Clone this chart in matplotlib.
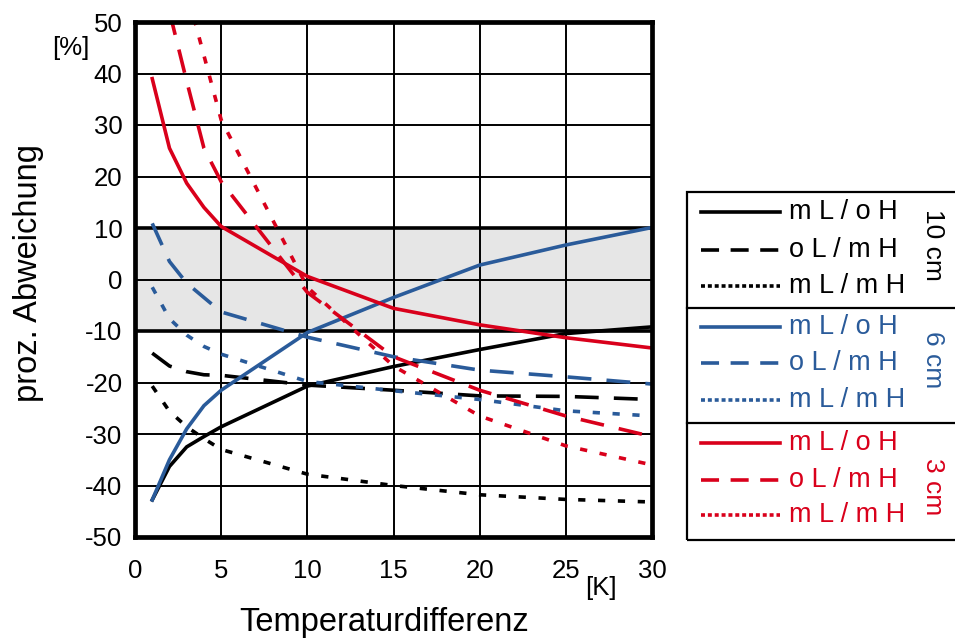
import numpy as np
import matplotlib
matplotlib.use('Agg')
import matplotlib.pyplot as plt
from matplotlib.lines import Line2D
from matplotlib.patches import Rectangle

plt.rcParams['font.family'] = ['Liberation Sans', 'DejaVu Sans']
plt.rcParams['axes.unicode_minus'] = False

# Temperaturdifferenz [K]
x = [1, 2, 3, 4, 5, 10, 15, 20, 25, 30]

# 10 cm
cm10_mL_oH = [-42.8, -36.3, -32.5, -30.5, -28.6, -20.7, -16.9, -13.6, -10.5, -9.2]
cm10_oL_mH = [-14.3, -16.8, -17.9, -18.5, -18.6, -20.5, -21.5, -22.6, -22.7, -23.3]
cm10_mL_mH = [-20.7, -25.6, -28.6, -30.9, -33.0, -37.8, -40.0, -41.8, -42.7, -43.2]
# 6 cm
cm6_mL_oH = [-42.8, -35.0, -29.0, -24.5, -21.5, -10.3, -3.5, 2.8, 6.7, 10.1]
cm6_oL_mH = [10.9, 3.5, -0.7, -3.5, -6.3, -11.2, -15.0, -17.6, -18.9, -20.3]
cm6_mL_mH = [-1.5, -7.6, -10.8, -13.0, -14.5, -19.8, -21.6, -23.3, -25.5, -26.5]
# 3 cm
cm3_mL_oH = [39.0, 25.5, 18.7, 14.0, 10.3, 0.6, -5.6, -8.8, -11.3, -13.3]
cm3_oL_mH = [np.nan, 52.0, 38.5, 25.5, 19.0, -2.5, -15.0, -21.5, -26.5, -30.5]
cm3_mL_mH = [np.nan, np.nan, 56.0, 43.5, 31.0, -1.5, -16.8, -26.5, -32.3, -36.0]

labels = ['m L / o H', 'o L / m H', 'm L / m H']
groups = ['10 cm', '6 cm', '3 cm']
black = '#000000'
blue = '#2a5b9a'
red = '#d9001b'
colors = [black, blue, red]
series = [[cm10_mL_oH, cm10_oL_mH, cm10_mL_mH],
          [cm6_mL_oH, cm6_oL_mH, cm6_mL_mH],
          [cm3_mL_oH, cm3_oL_mH, cm3_mL_mH]]
styles = ['-', (0, (6.6, 4.2)), (0, (2.0, 3.5))]
leg_styles = ['-', (0, (5.0, 3.2)), (0, (1.1, 0.8))]

W, H = 955, 638
fig = plt.figure(figsize=(W / 100, H / 100), dpi=100)
ax = fig.add_axes([135 / W, 1 - 537 / H, (652 - 135) / W, (537 - 22) / H])

ax.axhspan(-10, 10, color='#e6e6e6', zorder=0)
ax.set_xlim(0, 30)
ax.set_ylim(-50, 50)
ax.set_xticks(np.arange(0, 31, 5))
ax.set_yticks(np.arange(-50, 51, 10))
ax.grid(True, color='black', linewidth=1.4, zorder=1)
ax.set_axisbelow(True)
for yv in (-10, 10):
    ax.axhline(yv, color='black', linewidth=2.6, zorder=1.5)
for s in ax.spines.values():
    s.set_linewidth(3.4)
    s.set_zorder(5)
ax.tick_params(length=0, labelsize=18.5)
ax.tick_params(axis='y', pad=9)
ax.tick_params(axis='x', pad=16)

for grp, col in zip(series, colors):
    for ys, ls in zip(grp, styles):
        ax.plot(x, ys, color=col, linestyle=ls, linewidth=2.6,
                dash_capstyle='butt', solid_joinstyle='miter', zorder=3)

fig.text(601 / W, 1 - 588 / H, '[K]', fontsize=18.5, ha='center', va='center')
fig.text(71 / W, 1 - 48 / H, '[%]', fontsize=18.5, ha='center', va='center')
fig.text(384 / W, 1 - 631 / H, 'Temperaturdifferenz', fontsize=23.5,
         ha='center', va='baseline')
fig.text(28 / W, 1 - 273 / H, 'proz. Abweichung', fontsize=23.5,
         rotation=90, ha='center', va='center')

# legend box
box_top, box_bot = 191.7, 540
fig.add_artist(Rectangle((686.7 / W, 1 - box_bot / H), 400 / W,
                         (box_bot - box_top) / H, fill=False,
                         edgecolor='black', linewidth=1.6,
                         transform=fig.transFigure, clip_on=False))
for ys in (307.7, 422.7):
    fig.add_artist(Line2D([686.7 / W, 1.2], [1 - ys / H] * 2, color='black',
                          linewidth=1.6, transform=fig.transFigure))

row_y = [[211.7, 250, 286], [326.7, 363.3, 400], [443.3, 480, 515]]
group_y = [245, 360, 487]
for gi, (col, name) in enumerate(zip(colors, groups)):
    for ri, (lab, ls) in enumerate(zip(labels, leg_styles)):
        yy = 1 - row_y[gi][ri] / H
        fig.add_artist(Line2D([700.7 / W, 780 / W], [yy, yy], color=col,
                              linestyle=ls, linewidth=2.6,
                              dash_capstyle='butt',
                              transform=fig.transFigure))
        fig.text(789 / W, yy, lab, color=col, fontsize=19.5, ha='left',
                 va='center')
    fig.text(933 / W, 1 - group_y[gi] / H, name, color=col, fontsize=19,
             rotation=270, ha='center', va='center')

fig.savefig('out.png', dpi=100)
